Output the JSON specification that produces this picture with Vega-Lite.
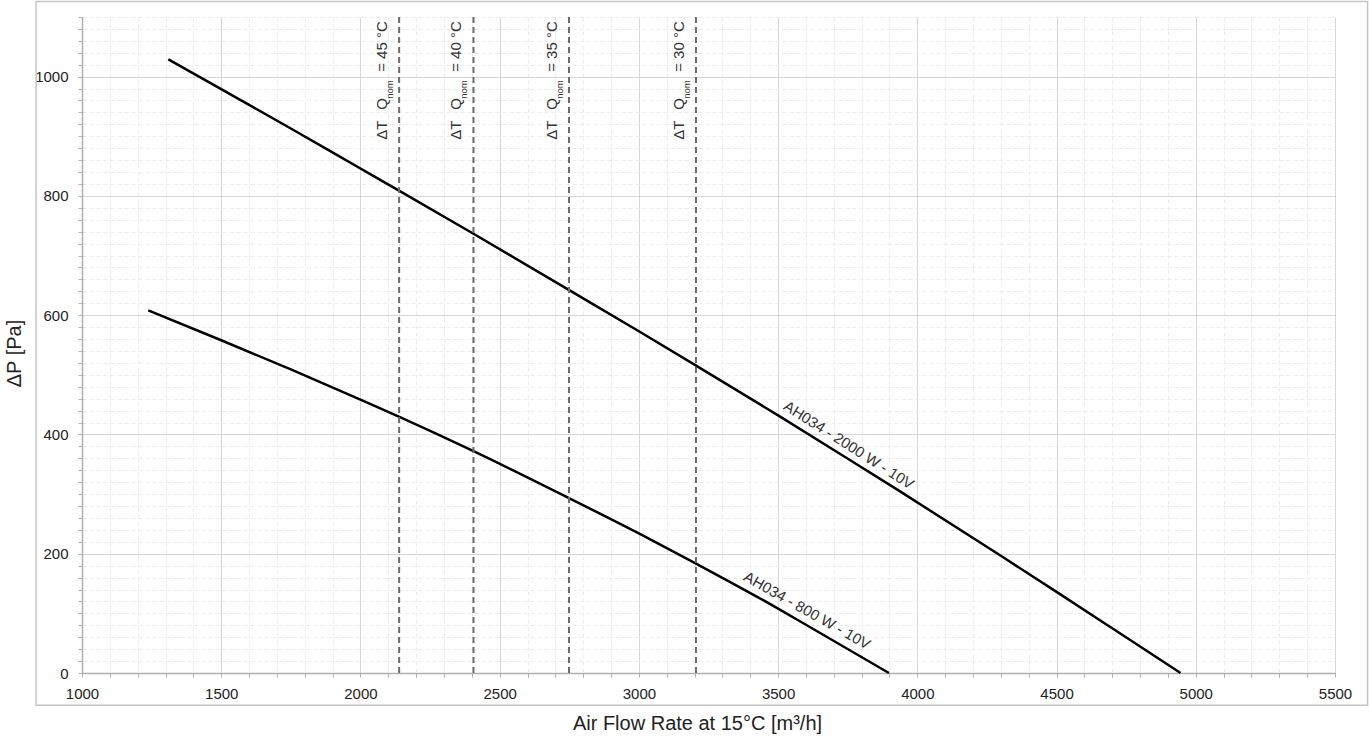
{
  "$schema": "https://vega.github.io/schema/vega-lite/v6.json",
  "width": 1253,
  "height": 656,
  "autosize": {"type": "none"},
  "padding": {"left": 82, "top": 17, "right": 34, "bottom": 70},
  "background": "white",
  "config": {
    "view": {"stroke": null},
    "font": "Liberation Sans",
    "text": {"font": "Liberation Sans"},
    "axis": {
      "labelFont": "Liberation Sans", "labelFontSize": 15, "labelColor": "#222222",
      "titleFont": "Liberation Sans", "titleFontSize": 20, "titleFontWeight": "normal", "titleColor": "#222222",
      "tickSize": 4, "tickColor": "#b0b0b0", "tickWidth": 1,
      "domainColor": "#b0b0b0", "domainWidth": 1.5,
      "gridWidth": 1, "labelOverlap": false
    },
    "axisX": {"labelPadding": 9, "labelFlush": false, "titleX": 615, "titleY": 50, "titleBaseline": "middle", "titleAlign": "center"},
    "axisY": {"labelPadding": 10, "titleX": -68, "titleY": 336, "titleAngle": 270, "titleBaseline": "middle", "titleAlign": "center"}
  },
  "datasets": {
    "curves": [
      {"series": "AH034 - 2000 W - 10V", "x": 1310, "y": 1029},
      {"series": "AH034 - 2000 W - 10V", "x": 1500, "y": 979},
      {"series": "AH034 - 2000 W - 10V", "x": 1750, "y": 913},
      {"series": "AH034 - 2000 W - 10V", "x": 2000, "y": 846},
      {"series": "AH034 - 2000 W - 10V", "x": 2140, "y": 808.5},
      {"series": "AH034 - 2000 W - 10V", "x": 2406, "y": 736.5},
      {"series": "AH034 - 2000 W - 10V", "x": 2750, "y": 642},
      {"series": "AH034 - 2000 W - 10V", "x": 3000, "y": 573},
      {"series": "AH034 - 2000 W - 10V", "x": 3207, "y": 515},
      {"series": "AH034 - 2000 W - 10V", "x": 3500, "y": 432},
      {"series": "AH034 - 2000 W - 10V", "x": 3755, "y": 358},
      {"series": "AH034 - 2000 W - 10V", "x": 3938, "y": 304.5},
      {"series": "AH034 - 2000 W - 10V", "x": 4300, "y": 196.5},
      {"series": "AH034 - 2000 W - 10V", "x": 4500, "y": 136},
      {"series": "AH034 - 2000 W - 10V", "x": 4700, "y": 75},
      {"series": "AH034 - 2000 W - 10V", "x": 4945, "y": 0},
      {"series": "AH034 - 800 W - 10V", "x": 1238, "y": 608},
      {"series": "AH034 - 800 W - 10V", "x": 1500, "y": 558},
      {"series": "AH034 - 800 W - 10V", "x": 1750, "y": 509},
      {"series": "AH034 - 800 W - 10V", "x": 2000, "y": 458.5},
      {"series": "AH034 - 800 W - 10V", "x": 2140, "y": 429.5},
      {"series": "AH034 - 800 W - 10V", "x": 2406, "y": 372},
      {"series": "AH034 - 800 W - 10V", "x": 2750, "y": 293},
      {"series": "AH034 - 800 W - 10V", "x": 3000, "y": 234},
      {"series": "AH034 - 800 W - 10V", "x": 3207, "y": 183},
      {"series": "AH034 - 800 W - 10V", "x": 3500, "y": 108},
      {"series": "AH034 - 800 W - 10V", "x": 3603, "y": 80},
      {"series": "AH034 - 800 W - 10V", "x": 3898, "y": 0}
    ],
    "limits": [
      {"dT": 45, "x": 2139, "label": "= 45 °C"},
      {"dT": 40, "x": 2406, "label": "= 40 °C"},
      {"dT": 35, "x": 2749, "label": "= 35 °C"},
      {"dT": 30, "x": 3205, "label": "= 30 °C"}
    ]
  },
  "layer": [
    {
      "data": {"name": "curves"},
      "mark": {"type": "line", "color": "#000000", "strokeWidth": 2.5, "interpolate": "monotone"},
      "encoding": {
        "x": {"field": "x", "type": "quantitative", "scale": {"domain": [1000, 5500], "nice": false, "zero": false},
          "axis": {"title": "Air Flow Rate at 15°C [m³/h]", "format": "d", "values": [1000,1100,1200,1300,1400,1500,1600,1700,1800,1900,2000,2100,2200,2300,2400,2500,2600,2700,2800,2900,3000,3100,3200,3300,3400,3500,3600,3700,3800,3900,4000,4100,4200,4300,4400,4500,4600,4700,4800,4900,5000,5100,5200,5300,5400,5500], "labelExpr": "datum.value % 500 === 0 ? datum.label : ''", "grid": true, "gridColor": {"condition": {"test": "datum.value % 500 === 0", "value": "#d6d6d6"}, "value": "#ebebeb"}, "gridDash": {"condition": {"test": "datum.value % 500 === 0", "value": []}, "value": [4, 3]}, "labelOverlap": false, "labelFlush": false, "labelFontSize": 15, "labelPadding": 9}},
        "y": {"field": "y", "type": "quantitative", "scale": {"domain": [0, 1100], "nice": false, "zero": false},
          "axis": {"title": "ΔP [Pa]", "format": "d", "values": [0,20,40,60,80,100,120,140,160,180,200,220,240,260,280,300,320,340,360,380,400,420,440,460,480,500,520,540,560,580,600,620,640,660,680,700,720,740,760,780,800,820,840,860,880,900,920,940,960,980,1000,1020,1040,1060,1080,1100], "labelExpr": "datum.value % 200 === 0 ? datum.label : ''", "grid": true, "gridColor": {"condition": {"test": "datum.value % 200 === 0", "value": "#d6d6d6"}, "value": "#ebebeb"}, "gridDash": {"condition": {"test": "datum.value % 200 === 0", "value": []}, "value": [4, 3]}, "labelOverlap": false, "labelFontSize": 15, "labelPadding": 10}},
        "detail": {"field": "series", "type": "nominal"}
      }
    },
    {
      "data": {"name": "limits"},
      "mark": {"type": "rule", "color": "#6b6b6b", "strokeWidth": 2, "strokeDash": [6, 4]},
      "encoding": {
        "x": {"field": "x", "type": "quantitative", "scale": {"domain": [1000, 5500], "nice": false, "zero": false},
          "axis": {"title": "Air Flow Rate at 15°C [m³/h]", "format": "d", "values": [1000,1100,1200,1300,1400,1500,1600,1700,1800,1900,2000,2100,2200,2300,2400,2500,2600,2700,2800,2900,3000,3100,3200,3300,3400,3500,3600,3700,3800,3900,4000,4100,4200,4300,4400,4500,4600,4700,4800,4900,5000,5100,5200,5300,5400,5500], "labelExpr": "datum.value % 500 === 0 ? datum.label : ''", "grid": true, "gridColor": {"condition": {"test": "datum.value % 500 === 0", "value": "#d6d6d6"}, "value": "#ebebeb"}, "gridDash": {"condition": {"test": "datum.value % 500 === 0", "value": []}, "value": [4, 3]}, "labelOverlap": false, "labelFlush": false, "labelFontSize": 15, "labelPadding": 9}}
      }
    },
    {
      "data": {"name": "limits"},
      "mark": {"type": "text", "text": "ΔT", "angle": 270, "align": "left", "baseline": "alphabetic", "dx": 0, "dy": -12, "fontSize": 15, "color": "#333333"},
      "encoding": {
        "x": {"field": "x", "type": "quantitative", "scale": {"domain": [1000, 5500], "nice": false, "zero": false},
          "axis": {"title": "Air Flow Rate at 15°C [m³/h]", "format": "d", "values": [1000,1100,1200,1300,1400,1500,1600,1700,1800,1900,2000,2100,2200,2300,2400,2500,2600,2700,2800,2900,3000,3100,3200,3300,3400,3500,3600,3700,3800,3900,4000,4100,4200,4300,4400,4500,4600,4700,4800,4900,5000,5100,5200,5300,5400,5500], "labelExpr": "datum.value % 500 === 0 ? datum.label : ''", "grid": true, "gridColor": {"condition": {"test": "datum.value % 500 === 0", "value": "#d6d6d6"}, "value": "#ebebeb"}, "gridDash": {"condition": {"test": "datum.value % 500 === 0", "value": []}, "value": [4, 3]}, "labelOverlap": false, "labelFlush": false, "labelFontSize": 15, "labelPadding": 9}},
        "y": {"datum": 894, "type": "quantitative", "scale": {"domain": [0, 1100], "nice": false, "zero": false},
          "axis": {"title": "ΔP [Pa]", "format": "d", "values": [0,20,40,60,80,100,120,140,160,180,200,220,240,260,280,300,320,340,360,380,400,420,440,460,480,500,520,540,560,580,600,620,640,660,680,700,720,740,760,780,800,820,840,860,880,900,920,940,960,980,1000,1020,1040,1060,1080,1100], "labelExpr": "datum.value % 200 === 0 ? datum.label : ''", "grid": true, "gridColor": {"condition": {"test": "datum.value % 200 === 0", "value": "#d6d6d6"}, "value": "#ebebeb"}, "gridDash": {"condition": {"test": "datum.value % 200 === 0", "value": []}, "value": [4, 3]}, "labelOverlap": false, "labelFontSize": 15, "labelPadding": 10}}
      }
    },
    {
      "data": {"name": "limits"},
      "mark": {"type": "text", "text": "Q", "angle": 270, "align": "left", "baseline": "alphabetic", "dx": 30, "dy": -12, "fontSize": 15, "color": "#333333"},
      "encoding": {
        "x": {"field": "x", "type": "quantitative", "scale": {"domain": [1000, 5500], "nice": false, "zero": false},
          "axis": {"title": "Air Flow Rate at 15°C [m³/h]", "format": "d", "values": [1000,1100,1200,1300,1400,1500,1600,1700,1800,1900,2000,2100,2200,2300,2400,2500,2600,2700,2800,2900,3000,3100,3200,3300,3400,3500,3600,3700,3800,3900,4000,4100,4200,4300,4400,4500,4600,4700,4800,4900,5000,5100,5200,5300,5400,5500], "labelExpr": "datum.value % 500 === 0 ? datum.label : ''", "grid": true, "gridColor": {"condition": {"test": "datum.value % 500 === 0", "value": "#d6d6d6"}, "value": "#ebebeb"}, "gridDash": {"condition": {"test": "datum.value % 500 === 0", "value": []}, "value": [4, 3]}, "labelOverlap": false, "labelFlush": false, "labelFontSize": 15, "labelPadding": 9}},
        "y": {"datum": 894, "type": "quantitative", "scale": {"domain": [0, 1100], "nice": false, "zero": false},
          "axis": {"title": "ΔP [Pa]", "format": "d", "values": [0,20,40,60,80,100,120,140,160,180,200,220,240,260,280,300,320,340,360,380,400,420,440,460,480,500,520,540,560,580,600,620,640,660,680,700,720,740,760,780,800,820,840,860,880,900,920,940,960,980,1000,1020,1040,1060,1080,1100], "labelExpr": "datum.value % 200 === 0 ? datum.label : ''", "grid": true, "gridColor": {"condition": {"test": "datum.value % 200 === 0", "value": "#d6d6d6"}, "value": "#ebebeb"}, "gridDash": {"condition": {"test": "datum.value % 200 === 0", "value": []}, "value": [4, 3]}, "labelOverlap": false, "labelFontSize": 15, "labelPadding": 10}}
      }
    },
    {
      "data": {"name": "limits"},
      "mark": {"type": "text", "text": "nom", "angle": 270, "align": "left", "baseline": "alphabetic", "dx": 41, "dy": -6, "fontSize": 9.5, "color": "#333333"},
      "encoding": {
        "x": {"field": "x", "type": "quantitative", "scale": {"domain": [1000, 5500], "nice": false, "zero": false},
          "axis": {"title": "Air Flow Rate at 15°C [m³/h]", "format": "d", "values": [1000,1100,1200,1300,1400,1500,1600,1700,1800,1900,2000,2100,2200,2300,2400,2500,2600,2700,2800,2900,3000,3100,3200,3300,3400,3500,3600,3700,3800,3900,4000,4100,4200,4300,4400,4500,4600,4700,4800,4900,5000,5100,5200,5300,5400,5500], "labelExpr": "datum.value % 500 === 0 ? datum.label : ''", "grid": true, "gridColor": {"condition": {"test": "datum.value % 500 === 0", "value": "#d6d6d6"}, "value": "#ebebeb"}, "gridDash": {"condition": {"test": "datum.value % 500 === 0", "value": []}, "value": [4, 3]}, "labelOverlap": false, "labelFlush": false, "labelFontSize": 15, "labelPadding": 9}},
        "y": {"datum": 894, "type": "quantitative", "scale": {"domain": [0, 1100], "nice": false, "zero": false},
          "axis": {"title": "ΔP [Pa]", "format": "d", "values": [0,20,40,60,80,100,120,140,160,180,200,220,240,260,280,300,320,340,360,380,400,420,440,460,480,500,520,540,560,580,600,620,640,660,680,700,720,740,760,780,800,820,840,860,880,900,920,940,960,980,1000,1020,1040,1060,1080,1100], "labelExpr": "datum.value % 200 === 0 ? datum.label : ''", "grid": true, "gridColor": {"condition": {"test": "datum.value % 200 === 0", "value": "#d6d6d6"}, "value": "#ebebeb"}, "gridDash": {"condition": {"test": "datum.value % 200 === 0", "value": []}, "value": [4, 3]}, "labelOverlap": false, "labelFontSize": 15, "labelPadding": 10}}
      }
    },
    {
      "data": {"name": "limits"},
      "mark": {"type": "text", "angle": 270, "align": "left", "baseline": "alphabetic", "dx": 68, "dy": -12, "fontSize": 15, "color": "#333333"},
      "encoding": {
        "x": {"field": "x", "type": "quantitative", "scale": {"domain": [1000, 5500], "nice": false, "zero": false},
          "axis": {"title": "Air Flow Rate at 15°C [m³/h]", "format": "d", "values": [1000,1100,1200,1300,1400,1500,1600,1700,1800,1900,2000,2100,2200,2300,2400,2500,2600,2700,2800,2900,3000,3100,3200,3300,3400,3500,3600,3700,3800,3900,4000,4100,4200,4300,4400,4500,4600,4700,4800,4900,5000,5100,5200,5300,5400,5500], "labelExpr": "datum.value % 500 === 0 ? datum.label : ''", "grid": true, "gridColor": {"condition": {"test": "datum.value % 500 === 0", "value": "#d6d6d6"}, "value": "#ebebeb"}, "gridDash": {"condition": {"test": "datum.value % 500 === 0", "value": []}, "value": [4, 3]}, "labelOverlap": false, "labelFlush": false, "labelFontSize": 15, "labelPadding": 9}},
        "y": {"datum": 894, "type": "quantitative", "scale": {"domain": [0, 1100], "nice": false, "zero": false},
          "axis": {"title": "ΔP [Pa]", "format": "d", "values": [0,20,40,60,80,100,120,140,160,180,200,220,240,260,280,300,320,340,360,380,400,420,440,460,480,500,520,540,560,580,600,620,640,660,680,700,720,740,760,780,800,820,840,860,880,900,920,940,960,980,1000,1020,1040,1060,1080,1100], "labelExpr": "datum.value % 200 === 0 ? datum.label : ''", "grid": true, "gridColor": {"condition": {"test": "datum.value % 200 === 0", "value": "#d6d6d6"}, "value": "#ebebeb"}, "gridDash": {"condition": {"test": "datum.value % 200 === 0", "value": []}, "value": [4, 3]}, "labelOverlap": false, "labelFontSize": 15, "labelPadding": 10}},
        "text": {"field": "label", "type": "nominal"}
      }
    },
    {
      "data": {"name": "curves"},
      "transform": [{"filter": "datum.x === 3755"}],
      "mark": {"type": "text", "angle": 32.5, "align": "center", "baseline": "middle", "dx": -8, "dy": -12, "fontSize": 15, "color": "#333333"},
      "encoding": {
        "x": {"field": "x", "type": "quantitative", "scale": {"domain": [1000, 5500], "nice": false, "zero": false},
          "axis": {"title": "Air Flow Rate at 15°C [m³/h]", "format": "d", "values": [1000,1100,1200,1300,1400,1500,1600,1700,1800,1900,2000,2100,2200,2300,2400,2500,2600,2700,2800,2900,3000,3100,3200,3300,3400,3500,3600,3700,3800,3900,4000,4100,4200,4300,4400,4500,4600,4700,4800,4900,5000,5100,5200,5300,5400,5500], "labelExpr": "datum.value % 500 === 0 ? datum.label : ''", "grid": true, "gridColor": {"condition": {"test": "datum.value % 500 === 0", "value": "#d6d6d6"}, "value": "#ebebeb"}, "gridDash": {"condition": {"test": "datum.value % 500 === 0", "value": []}, "value": [4, 3]}, "labelOverlap": false, "labelFlush": false, "labelFontSize": 15, "labelPadding": 9}},
        "y": {"field": "y", "type": "quantitative", "scale": {"domain": [0, 1100], "nice": false, "zero": false},
          "axis": {"title": "ΔP [Pa]", "format": "d", "values": [0,20,40,60,80,100,120,140,160,180,200,220,240,260,280,300,320,340,360,380,400,420,440,460,480,500,520,540,560,580,600,620,640,660,680,700,720,740,760,780,800,820,840,860,880,900,920,940,960,980,1000,1020,1040,1060,1080,1100], "labelExpr": "datum.value % 200 === 0 ? datum.label : ''", "grid": true, "gridColor": {"condition": {"test": "datum.value % 200 === 0", "value": "#d6d6d6"}, "value": "#ebebeb"}, "gridDash": {"condition": {"test": "datum.value % 200 === 0", "value": []}, "value": [4, 3]}, "labelOverlap": false, "labelFontSize": 15, "labelPadding": 10}},
        "text": {"field": "series", "type": "nominal"}
      }
    },
    {
      "data": {"name": "curves"},
      "transform": [{"filter": "datum.x === 3603"}],
      "mark": {"type": "text", "angle": 29.5, "align": "center", "baseline": "middle", "dx": -7, "dy": -13, "fontSize": 15, "color": "#333333"},
      "encoding": {
        "x": {"field": "x", "type": "quantitative", "scale": {"domain": [1000, 5500], "nice": false, "zero": false},
          "axis": {"title": "Air Flow Rate at 15°C [m³/h]", "format": "d", "values": [1000,1100,1200,1300,1400,1500,1600,1700,1800,1900,2000,2100,2200,2300,2400,2500,2600,2700,2800,2900,3000,3100,3200,3300,3400,3500,3600,3700,3800,3900,4000,4100,4200,4300,4400,4500,4600,4700,4800,4900,5000,5100,5200,5300,5400,5500], "labelExpr": "datum.value % 500 === 0 ? datum.label : ''", "grid": true, "gridColor": {"condition": {"test": "datum.value % 500 === 0", "value": "#d6d6d6"}, "value": "#ebebeb"}, "gridDash": {"condition": {"test": "datum.value % 500 === 0", "value": []}, "value": [4, 3]}, "labelOverlap": false, "labelFlush": false, "labelFontSize": 15, "labelPadding": 9}},
        "y": {"field": "y", "type": "quantitative", "scale": {"domain": [0, 1100], "nice": false, "zero": false},
          "axis": {"title": "ΔP [Pa]", "format": "d", "values": [0,20,40,60,80,100,120,140,160,180,200,220,240,260,280,300,320,340,360,380,400,420,440,460,480,500,520,540,560,580,600,620,640,660,680,700,720,740,760,780,800,820,840,860,880,900,920,940,960,980,1000,1020,1040,1060,1080,1100], "labelExpr": "datum.value % 200 === 0 ? datum.label : ''", "grid": true, "gridColor": {"condition": {"test": "datum.value % 200 === 0", "value": "#d6d6d6"}, "value": "#ebebeb"}, "gridDash": {"condition": {"test": "datum.value % 200 === 0", "value": []}, "value": [4, 3]}, "labelOverlap": false, "labelFontSize": 15, "labelPadding": 10}},
        "text": {"field": "series", "type": "nominal"}
      }
    },
    {
      "data": {"values": [{}]},
      "mark": {"type": "rect", "fill": "transparent", "stroke": "#c4c4c4", "strokeWidth": 1.5},
      "encoding": {
        "x": {"datum": 835, "type": "quantitative", "scale": {"domain": [1000, 5500], "nice": false, "zero": false},
          "axis": {"title": "Air Flow Rate at 15°C [m³/h]", "format": "d", "values": [1000,1100,1200,1300,1400,1500,1600,1700,1800,1900,2000,2100,2200,2300,2400,2500,2600,2700,2800,2900,3000,3100,3200,3300,3400,3500,3600,3700,3800,3900,4000,4100,4200,4300,4400,4500,4600,4700,4800,4900,5000,5100,5200,5300,5400,5500], "labelExpr": "datum.value % 500 === 0 ? datum.label : ''", "grid": true, "gridColor": {"condition": {"test": "datum.value % 500 === 0", "value": "#d6d6d6"}, "value": "#ebebeb"}, "gridDash": {"condition": {"test": "datum.value % 500 === 0", "value": []}, "value": [4, 3]}, "labelOverlap": false, "labelFlush": false, "labelFontSize": 15, "labelPadding": 9}},
        "x2": {"datum": 5617},
        "y": {"datum": -54, "type": "quantitative", "scale": {"domain": [0, 1100], "nice": false, "zero": false},
          "axis": {"title": "ΔP [Pa]", "format": "d", "values": [0,20,40,60,80,100,120,140,160,180,200,220,240,260,280,300,320,340,360,380,400,420,440,460,480,500,520,540,560,580,600,620,640,660,680,700,720,740,760,780,800,820,840,860,880,900,920,940,960,980,1000,1020,1040,1060,1080,1100], "labelExpr": "datum.value % 200 === 0 ? datum.label : ''", "grid": true, "gridColor": {"condition": {"test": "datum.value % 200 === 0", "value": "#d6d6d6"}, "value": "#ebebeb"}, "gridDash": {"condition": {"test": "datum.value % 200 === 0", "value": []}, "value": [4, 3]}, "labelOverlap": false, "labelFontSize": 15, "labelPadding": 10}},
        "y2": {"datum": 1126}
      }
    }
  ]
}
